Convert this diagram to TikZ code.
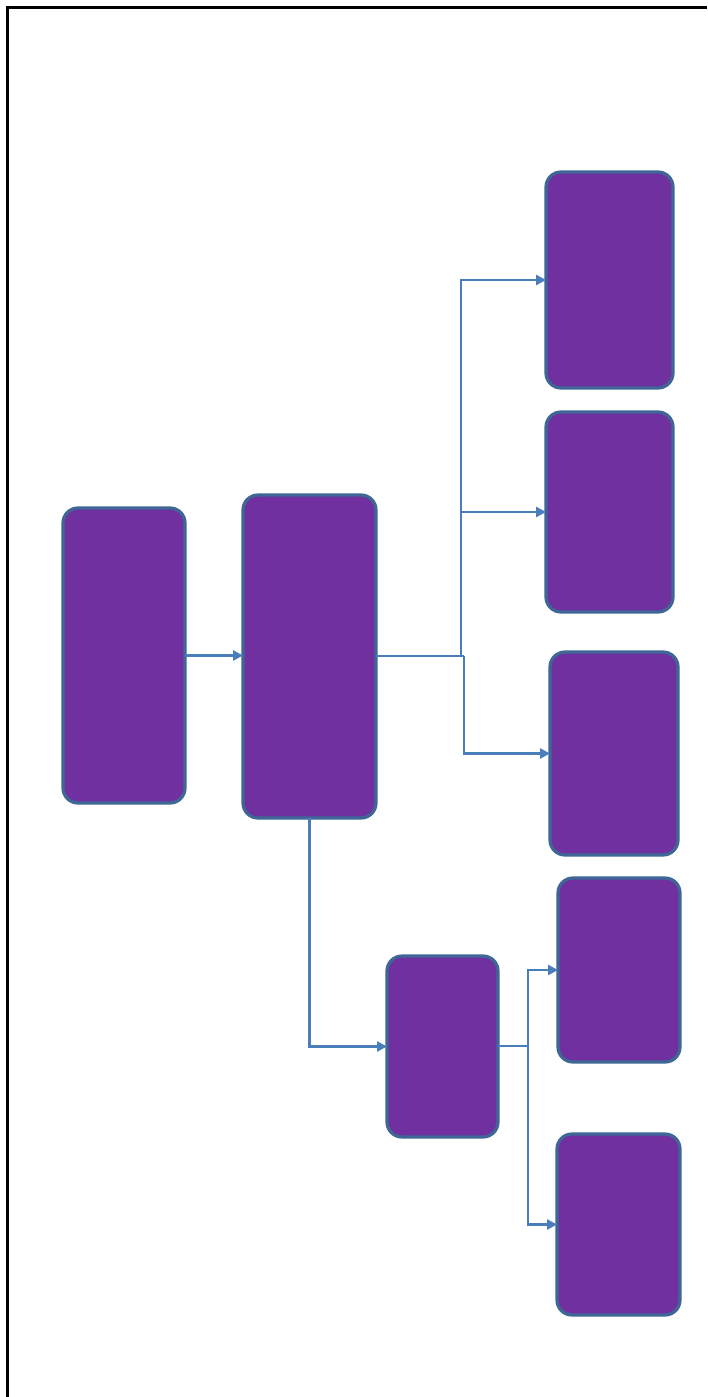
\documentclass[tikz,border=0pt]{standalone}
\usetikzlibrary{arrows.meta}
\definecolor{boxfill}{HTML}{7030A0}
\definecolor{boxline}{HTML}{3E6796}
\definecolor{conn}{HTML}{4A7EBB}
\tikzset{
  box/.style={draw=boxline, fill=boxfill, line width=3.2pt, rounded corners=15pt, inner sep=0pt, outer sep=0pt},
  arr/.style={draw=conn, line width=2.6pt, -{Triangle[length=10pt,width=10pt]}},
  ln/.style={draw=conn, line width=2.6pt}
}
\newcommand{\mybox}[5]{\node[box, minimum width=#4-#2, minimum height=#5-#3] (#1) at ({(#2+#4)/2},{(#3+#5)/2}) {};}
\begin{document}
\begin{tikzpicture}[x=1pt,y=-1pt]
\useasboundingbox (0,0) rectangle (707,1397);
\fill[white] (0,0) rectangle (707,1397);
% frame
\draw[line width=3pt] (707,7.5) -- (6.5,7.5);
\draw[line width=2.2pt] (7.5,6) -- (7.5,1397);
% boxes
\mybox{A}{63}{508}{185}{803}
\mybox{B}{243}{495}{376}{818}
\mybox{C1}{546}{172}{673}{388}
\mybox{C2}{546}{412}{673}{612}
\mybox{C3}{550}{652}{678}{855}
\mybox{D}{387}{956}{498}{1137}
\mybox{E1}{558}{878}{680}{1062}
\mybox{E2}{557}{1134}{680}{1315}
% connectors
\draw[arr] (A.east) -- (B.west |- A.east);
\coordinate (j1) at (461,656);
\coordinate (j2) at (464,656);
\draw[ln] (B.east |- j1) -- (j1);
\draw[arr] (j1) |- (C1.west);
\draw[arr] (j1) |- (C2.west);
\draw[ln] (B.east |- j2) -- (j2);
\draw[arr] (j2) |- (C3.west);
\draw[arr] (B.south) |- (D.west);
\coordinate (j3) at (528,1046);
\draw[ln] (D.east |- j3) -- (j3);
\draw[arr] (j3) |- (E1.west);
\draw[arr] (j3) |- (E2.west);
\end{tikzpicture}
\end{document}
